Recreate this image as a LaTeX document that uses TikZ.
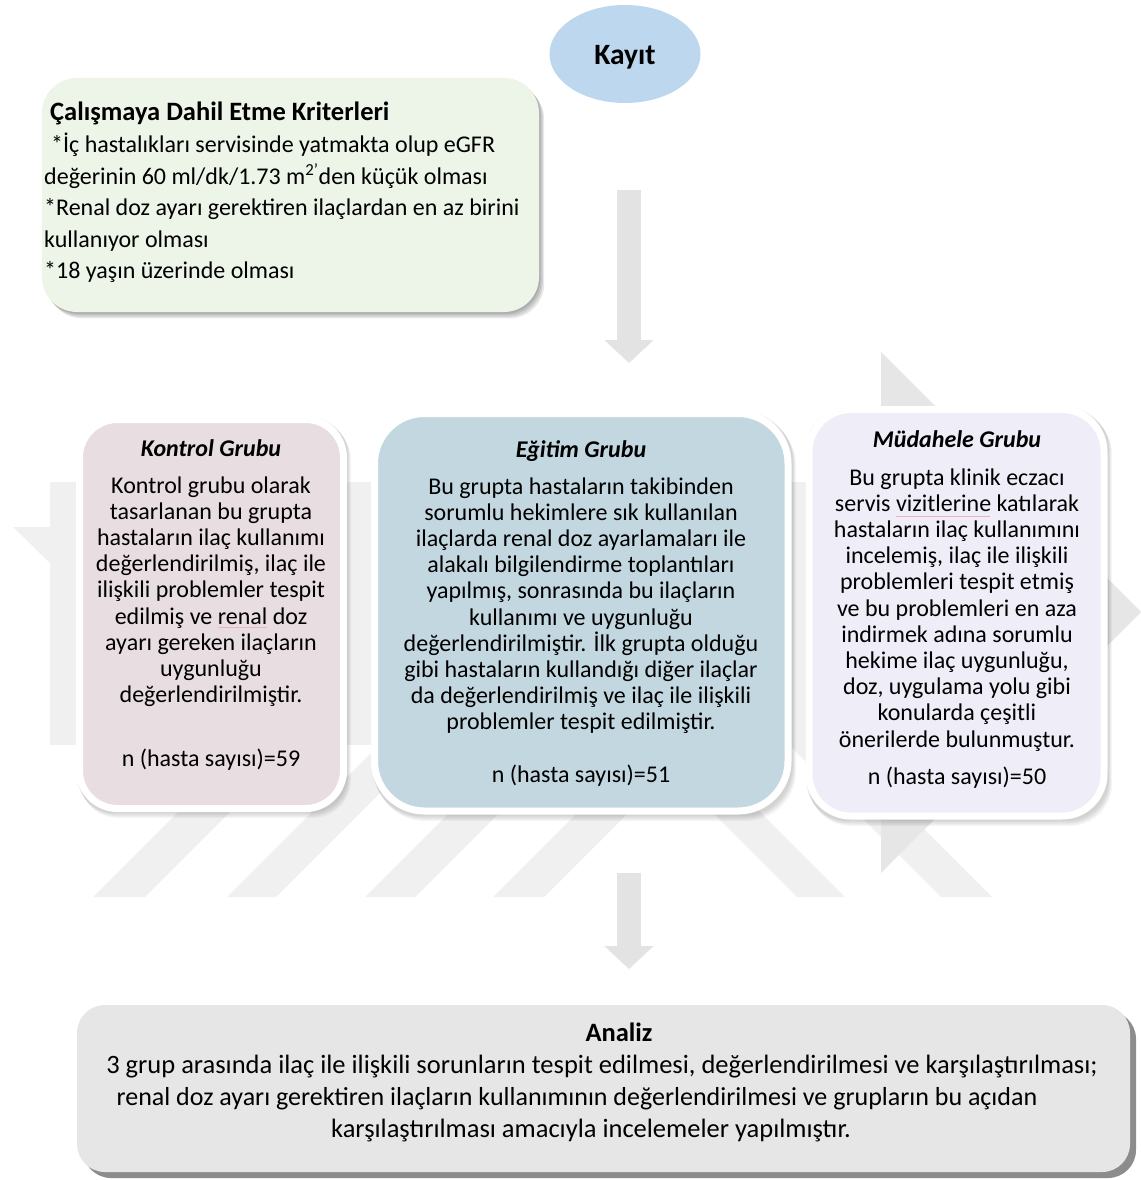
\documentclass[tikz,border=0pt]{standalone}
\usepackage{fontspec}
\setmainfont{Carlito}
\usetikzlibrary{arrows.meta,shapes.geometric}
\definecolor{wm}{HTML}{F0F0F0}
\definecolor{wmdark}{HTML}{E6E6E6}
\definecolor{arrowgray}{HTML}{E3E3E3}
\definecolor{kayitblue}{HTML}{BDD7EE}
\definecolor{critgreen}{HTML}{EDF4E8}
\definecolor{kontrolpink}{HTML}{E8DDE0}
\definecolor{egitimblue}{HTML}{C3D7E0}
\definecolor{mudlav}{HTML}{EEEDF8}
\definecolor{analizgray}{HTML}{E6E6E6}
\definecolor{spellred}{HTML}{EBB3BC}
\newcommand{\mycblock}[2]{\parbox[t]{#1}{\centering\fontsize{24}{26.2}\selectfont #2}}
\tikzset{
  blockarrow/.style={draw=arrowgray, line width=24pt, -{Triangle[width=48pt,length=23pt]}},
  groupbox/.style={draw=white, line width=7pt, minimum width=#1, inner sep=0pt},
  grouptitle/.style={anchor=base, font=\fontsize{24}{26}\selectfont\bfseries\itshape, inner sep=0pt},
  grouptext/.style={anchor=base, inner sep=0pt},
  plaintext/.style={anchor=base, inner sep=0pt, font=\fontsize{24}{28}\selectfont},
  analiztext/.style={anchor=base, inner sep=0pt, font=\fontsize{26.5}{30}\selectfont},
  softshadow/.style={fill=black, opacity=0.035},
  spellmark/.style={draw=spellred, line width=0.6pt},
}
\begin{document}
\begin{tikzpicture}[x=1pt,y=-1pt]
\useasboundingbox (0,0) rectangle (1140,1180);
\fill[white] (0,0) rectangle (1140,1180);

% ---- watermark (faint background logo)
\fill[wm] (50,482) rectangle (815,745);
\fill[wm] (13,527) -- (50,527) -- (50,563) -- cycle;
\foreach \a/\b in {93/145,227/276,365/415,493/544}
  \fill[wm] (\a,897) -- (\b,897) -- (\b+152,745) -- (\a+152,745) -- cycle;
\foreach \a/\b in {645/693,789/840}
  \fill[wm] (\a,745) -- (\b,745) -- (\b+152,897) -- (\a+152,897) -- cycle;
\fill[wmdark] (881,352) -- (1141,612) -- (881,873) -- cycle;

% ---- Kayit
\node[ellipse, fill=kayitblue, minimum width=151pt, minimum height=98pt, inner sep=0pt] (kayit) at (625,54) {};
\node[anchor=base, inner sep=0pt, font=\fontsize{29.5}{31}\selectfont\bfseries] (kayitT) at (625,65) {Kayıt};

% ---- criteria box
\foreach \k in {1,...,4}
  \fill[black, opacity=0.09, rounded corners=35pt] (42+\k*1.3,78+\k*1.6) rectangle (539+\k*1.3,312+\k*1.6);
\node[fill=critgreen, rounded corners=35pt, minimum width=497pt, minimum height=234pt, inner sep=0pt] (crit) at (290.5,195) {};
\node[anchor=base west, inner sep=0pt] (crittext) at (44,121)
  {\parbox[t]{520pt}{\raggedright\fontsize{24}{31.6}\selectfont
   \hspace*{6pt}{\fontsize{26.5}{31.6}\selectfont\bfseries Çalışmaya Dahil Etme Kriterleri}\\
   \hspace*{7pt}{*}İç hastalıkları servisinde yatmakta olup eGFR\\
   değerinin 60 ml/dk/1.73 m\textsuperscript{2’}den küçük olması\\
   {*}Renal doz ayarı gerektiren ilaçlardan en az birini\\
   kullanıyor olması\\
   {*}18 yaşın üzerinde olması}};

% ---- arrow 1
\coordinate (a1s) at (629,190);
\coordinate (a1e) at (629,363);
\draw[blockarrow] (a1s) -- (a1e);

% ---- group boxes
\foreach \k in {1,...,5}{
  \fill[softshadow, rounded corners=38pt] (76+\k*0.8,416+\k*1.2) rectangle (347+\k*0.8,812+\k*1.2);
  \fill[softshadow, rounded corners=50pt] (371+\k*0.8,410+\k*1.2) rectangle (792+\k*0.8,815+\k*1.2);
  \fill[softshadow, rounded corners=42pt] (805+\k*0.8,406+\k*1.2) rectangle (1108+\k*0.8,820+\k*1.2);
}
\node[groupbox=264pt, minimum height=389pt, fill=kontrolpink, rounded corners=38pt] (kontrol) at (211.5,614) {};
\node[groupbox=413.5pt, minimum height=397.5pt, fill=egitimblue, rounded corners=50pt] (egitim) at (581.25,612.25) {};
\node[groupbox=295pt, minimum height=406.5pt, fill=mudlav, rounded corners=42pt] (mudahele) at (956.5,612.75) {};

\node[grouptitle] (kontrolT) at (211,456) {Kontrol Grubu};
\node[grouptext] (kontrolB) at (211,493) {\mycblock{300pt}{Kontrol grubu olarak\\
tasarlanan bu grupta\\
hastaların ilaç kullanımı\\
değerlendirilmiş, ilaç ile\\
ilişkili problemler tespit\\
edilmiş ve renal doz\\
ayarı gereken ilaçların\\
uygunluğu\\
değerlendirilmiştir.}};
\node[plaintext] (kontrolN) at (211,766) {n (hasta sayısı)=59};
\coordinate (sp1a) at (218,627);
\coordinate (sp1b) at (267,627);
\draw[spellmark] (sp1a) -- (sp1b);

\node[grouptitle] (egitimT) at (581,457) {Eğitim Grubu};
\node[grouptext] (egitimB) at (581,494) {\mycblock{440pt}{Bu grupta hastaların takibinden\\
sorumlu hekimlere sık kullanılan\\
ilaçlarda renal doz ayarlamaları ile\\
alakalı bilgilendirme toplantıları\\
yapılmış, sonrasında bu ilaçların\\
kullanımı ve uygunluğu\\
değerlendirilmiştir. İlk grupta olduğu\\
gibi hastaların kullandığı diğer ilaçlar\\
da değerlendirilmiş ve ilaç ile ilişkili\\
problemler tespit edilmiştir.}};
\node[plaintext] (egitimN) at (581,782) {n (hasta sayısı)=51};

\node[grouptitle] (mudaheleT) at (957,447) {Müdahele Grubu};
\node[grouptext] (mudaheleB) at (957,485) {\mycblock{320pt}{Bu grupta klinik eczacı\\
servis vizitlerine katılarak\\
hastaların ilaç kullanımını\\
incelemiş, ilaç ile ilişkili\\
problemleri tespit etmiş\\
ve bu problemleri en aza\\
indirmek adına sorumlu\\
hekime ilaç uygunluğu,\\
doz, uygulama yolu gibi\\
konularda çeşitli\\
önerilerde bulunmuştur.}};
\node[plaintext] (mudaheleN) at (957,784) {n (hasta sayısı)=50};
\coordinate (sp2a) at (896,516);
\coordinate (sp2b) at (990,516);
\draw[spellmark] (sp2a) -- (sp2b);

% ---- arrow 2
\coordinate (a2s) at (629,873);
\coordinate (a2e) at (629,969);
\draw[blockarrow] (a2s) -- (a2e);

% ---- Analiz box
\fill[black!45, rounded corners=28pt] (83,1011) rectangle (1136,1178);
\node[fill=analizgray, rounded corners=28pt, minimum width=1053pt, minimum height=167pt, inner sep=0pt] (analiz) at (603.5,1088.5) {};
\node[analiztext, font=\fontsize{26.5}{30}\selectfont\bfseries] (analizT) at (619,1041) {Analiz};
\node[analiztext] (analiz1) at (602,1073) {3 grup arasında ilaç ile ilişkili sorunların tespit edilmesi, değerlendirilmesi ve karşılaştırılması;};
\node[analiztext, font=\fontsize{26}{30}\selectfont] (analiz2) at (577,1105) {renal doz ayarı gerektiren ilaçların kullanımının değerlendirilmesi ve grupların bu açıdan};
\node[analiztext] (analiz3) at (591,1137) {karşılaştırılması amacıyla incelemeler yapılmıştır.};
\end{tikzpicture}
\end{document}
